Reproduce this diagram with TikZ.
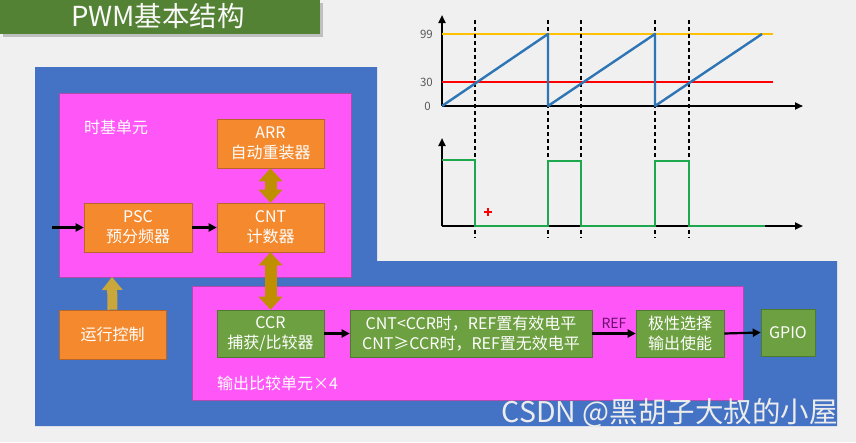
\documentclass[tikz,border=0pt]{standalone}
\usepackage{fontspec}
\setmainfont{Noto Sans CJK SC}
\usetikzlibrary{arrows.meta}
\definecolor{bgc}{HTML}{F0F0F0}
\definecolor{titlegreen}{HTML}{548235}
\definecolor{bluebg}{HTML}{4472C4}
\definecolor{magentabg}{HTML}{FF57F7}
\definecolor{magentabd}{HTML}{B04AB0}
\definecolor{orangebox}{HTML}{F4892E}
\definecolor{orangebd}{HTML}{B8652A}
\definecolor{greenbox}{HTML}{6DA040}
\definecolor{greenbd}{HTML}{4E7A30}
\definecolor{goldarrow}{HTML}{BF8F00}
\definecolor{olivearrow}{HTML}{C9A73A}
\definecolor{reflabel}{HTML}{6A0F70}
\definecolor{sawblue}{HTML}{2E75B6}
\definecolor{lineyellow}{HTML}{FFC000}
\definecolor{pwmgreen}{HTML}{1DA84E}
\definecolor{labgray}{HTML}{595959}
\tikzset{
  boxtext/.style={text=white, align=center, inner sep=0pt, font=\fontsize{16}{20}\selectfont, line width=0.6pt},
  obox/.style={boxtext, draw=orangebd, fill=orangebox, minimum width=107pt, minimum height=49pt},
  gbox/.style={boxtext, draw=greenbd, fill=greenbox, minimum height=47pt},
  region/.style={fill=magentabg, draw=magentabd, line width=0.5pt},
  blk/.style={-{Triangle[length=8pt,width=8pt]}, line width=2.2pt, black},
  dbl/.style={line width=12pt, draw=goldarrow, {Triangle[length=13pt,width=24pt,line width=0pt]}-{Triangle[length=13pt,width=24pt,line width=0pt]}},
  uparrow/.style={line width=10pt, draw=olivearrow, -{Triangle[length=13pt,width=21pt,line width=0pt]}},
  axis/.style={line width=2pt, black, -{Triangle[length=8pt,width=7pt]}},
  vdash/.style={line width=1.2pt, black, dash pattern=on 4pt off 3pt},
  axlab/.style={text=labgray, font=\fontsize{11.5}{13}\selectfont, anchor=east, inner sep=0pt},
}
\begin{document}
\begin{tikzpicture}[x=1pt,y=-1pt]
\useasboundingbox (0,0) rectangle (856,442);
\fill[bgc] (0,0) rectangle (856,442);

% title banner
\fill[black!25] (3,3) rectangle (323,37);
\fill[titlegreen] (0,0) rectangle (320,34);
\node[text=white!95!gray, font=\fontsize{27.5}{30}\selectfont, inner sep=0pt] (title) at (158,16.5) {PWM基本结构};

% blue background shape
\fill[bluebg] (35,67) -- (377,67) -- (377,261) -- (837,261) -- (837,426) -- (35,426) -- cycle;

% magenta regions
\path[region] (59,93) rectangle (351,277);
\path[region] (192,286) rectangle (743,400);
\coordinate (m1bottom) at (112,277);

\node[text=white, font=\fontsize{16}{20}\selectfont, anchor=west, inner sep=0pt] (tb) at (84,127) {时基单元};
\node[text=white, font=\fontsize{16}{20}\selectfont, anchor=west, inner sep=0pt] (oc) at (217,383) {输出比较单元×4};

% orange boxes
\node[obox] (arr) at (270.5,143.5) {ARR\\自动重装器};
\node[obox, minimum width=108pt] (psc) at (138,227.5) {PSC\\预分频器};
\node[obox] (cnt) at (270.5,227.5) {CNT\\计数器};
\node[obox] (run) at (112.5,334.5) {运行控制};

% green boxes
\node[gbox, minimum width=107pt] (ccr) at (270.5,333.5) {CCR\\捕获/比较器};
\node[gbox, minimum width=242pt] (cmp) at (471,333.5) {CNT<CCR时，REF置有效电平\\CNT≥CCR时，REF置无效电平};
\node[gbox, minimum width=88pt] (pol) at (680,333.5) {极性选择\\输出使能};
\node[gbox, minimum width=54pt] (gpio) at (788,332.5) {GPIO};

% connectors
\coordinate (in) at (52,227.5);
\draw[blk] (in) -- (psc.west);
\draw[blk] (psc.east) -- (cnt.west);
\draw[dbl] (arr.south) -- (cnt.north);
\draw[dbl] (cnt.south) -- (ccr.north);
\draw[uparrow] (run.north) -- (m1bottom);
\draw[blk] (ccr.east) -- (cmp.west);
\draw[blk] (cmp.east) -- node[above=4pt, text=reflabel, font=\fontsize{14}{16}\selectfont, inner sep=0pt] (reflab) {REF} (pol.west);
\draw[blk] (pol.east) -- (gpio.west);

% ---------- charts ----------
\draw[axis] (442,106) -- (803,106);
\draw[axis] (442,106) -- (442,15);
\draw[axis] (442,226) -- (803,226);
\draw[axis] (442,226) -- (442,138);
\draw[line width=2pt, lineyellow] (442,34) -- (773,34);
\draw[line width=2pt, red] (442,82) -- (773,82);

% dashed verticals
\foreach \xx in {475,548,581,655,689} {
  \draw[vdash] (\xx,20) -- (\xx,238);
}

\draw[line width=2.4pt, sawblue, line join=round] (442,106) -- (548,34) -- (548,106) -- (655,34) -- (655,106) -- (762,34);
\node[axlab] (l99) at (433,34) {99};
\node[axlab] (l30) at (433,82) {30};
\node[axlab] (l0) at (431,106) {0};

\draw[line width=2.4pt, pwmgreen] (442,160) -- (475,160) -- (475,226) -- (548,226) -- (548,161) -- (581,161) -- (581,226) -- (655,226) -- (655,161) -- (689,161) -- (689,226) -- (765,226);

% red cursor plus
\draw[red, line width=1.2pt] (484,212) -- (492,212) (488,208) -- (488,216);

% watermark
\node[text=white!85!gray, font=\fontsize{28.5}{32}\selectfont, anchor=east, inner sep=0pt] (wm) at (838,413) {CSDN @黑胡子大叔的小屋};
\end{tikzpicture}
\end{document}
